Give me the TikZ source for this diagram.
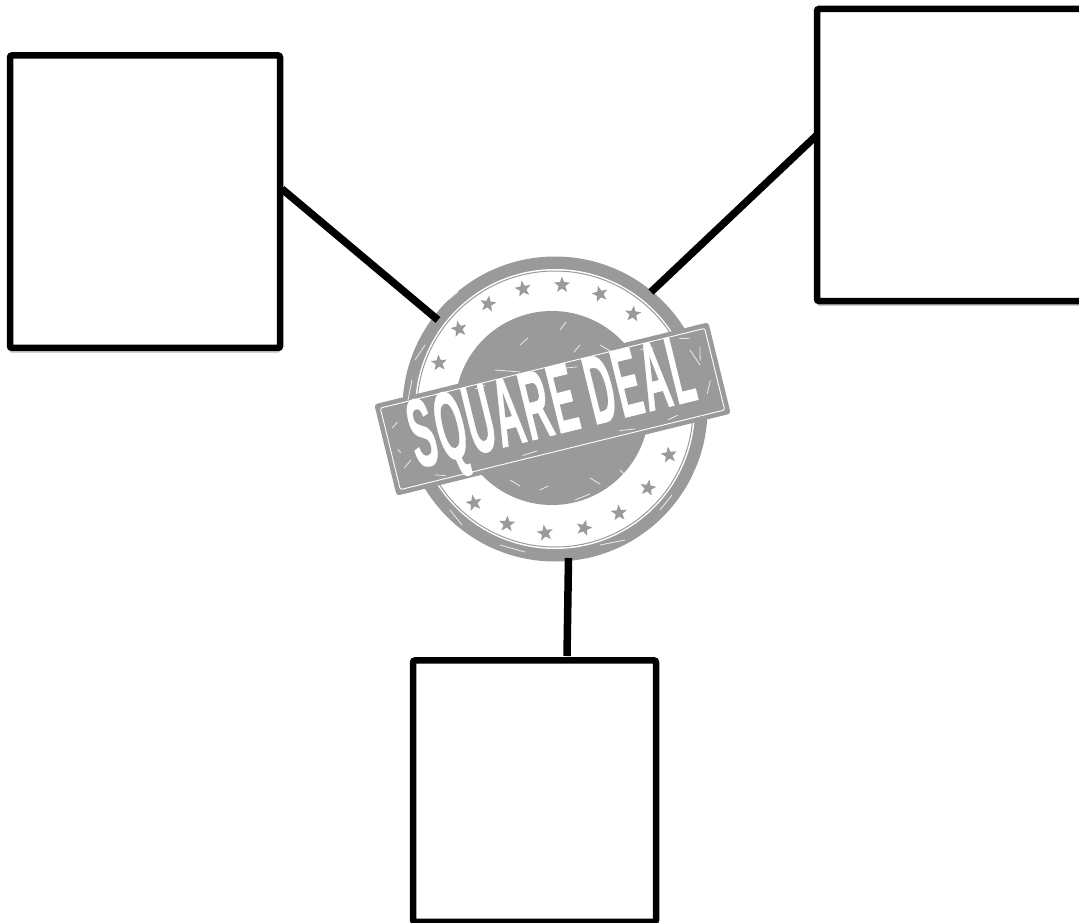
\documentclass[tikz,border=0pt]{standalone}
\usepackage{fontspec}
\usepackage{graphicx}
\setmainfont{Liberation Sans}
\usetikzlibrary{shapes.geometric,shadows}
\definecolor{stampgray}{HTML}{9A9A9A}
\tikzset{
  blankbox/.style={draw=black,line width=6.5pt,fill=white,rounded corners=2pt,inner sep=0pt,
    drop shadow={shadow xshift=0pt,shadow yshift=-5pt,fill=black!50,opacity=0.35}},
  link/.style={draw=black,line width=7.5pt},
  stampstar/.style={star,star points=5,star point ratio=2.4,fill=stampgray,minimum size=17pt,inner sep=0pt},
  scratch/.style={draw=white,line width=0.8pt,line cap=round,opacity=0.8}
}
\begin{document}
\begin{tikzpicture}[x=1pt,y=-1pt]
\useasboundingbox (0,0) rectangle (1079,923);
\clip (0,0) rectangle (1079,923);
% boxes
\node[blankbox,minimum width=270pt,minimum height=292.5pt] (lbox) at (145,201.7) {};
\node[blankbox,minimum width=300pt,minimum height=292pt] (rbox) at (967,155) {};
\node[blankbox,minimum width=243pt,minimum height=261.5pt] (bbox) at (534.5,791.2) {};
% stamp
\node[circle,fill=stampgray,minimum size=305pt,inner sep=0pt] (stamp) at (555,409) {};
\node[circle,fill=white,minimum size=280pt,inner sep=0pt] at (stamp) {};
\node[circle,draw=stampgray,line width=1pt,minimum size=276pt,inner sep=0pt] at (stamp) {};
\node[circle,fill=stampgray,minimum size=194pt,inner sep=0pt] (disc) at (552,408) {};
\foreach \i/\sx/\sy/\r in {a/439/363/5,b/459/329/12,c/488/304/-8,d/523/289/10,e/562/285/0,f/600/294/14,g/633/314/-6,
  h/669/455/8,i/648/488/-10,j/619/513/4,k/584/528/-14,l/545/533/9,m/507/524/-4,n/474/503/12}{
  \node[stampstar,rotate=\r] (star\i) at (\sx,\sy) {};
}
% banner
\begin{scope}[shift={(552.5,409)},rotate=13.8]
  \node[fill=stampgray,rounded corners=3pt,minimum width=344pt,minimum height=94pt,inner sep=0pt,rotate=13.8] (banner) at (0,0) {};
  \draw[white,line width=0.9pt,rounded corners=2pt] (-167,-42) rectangle (167,42);
  \node[text=white,inner sep=0pt,rotate=13.8] (label) at (1,1)
    {\resizebox{292pt}{68pt}{\textbf{\addfontfeature{FakeBold=1,LetterSpace=5}SQUARE DEAL}}};
  \foreach \ax/\ay/\bx/\by in {-160/-20/-154/-24,-158/22/-150/16,-130/36/-120/39,158/-25/155/-12,160/10/154/22,120/36/110/38,
    60/37/75/39,-40/38/-25/37,20/-37/34/-35,-70/-38/-60/-39,100/-37/112/-35,-160/2/-158/6,140/-38/150/-36}{
    \draw[scratch] (\ax,\ay) -- (\bx,\by);
  }
\end{scope}
% scratches on disc and ring
\foreach \ax/\ay/\bx/\by in {520/345/528/338,560/330/566/322,600/345/612/352,495/370/520/372,590/478/600/484,620/470/632/482,
  540/490/548/486,510/480/520/486,575/500/590/494,580/345/574/352,
  415/360/425/345,448/300/458/292,640/275/655/285,690/350/700/365,695/470/688/490,450/510/462/525,500/545/525/552,600/545/625/540,660/510/672/495,412/380/408/400}{
  \draw[scratch] (\ax,\ay) -- (\bx,\by);
}
% connectors
\coordinate (lstart) at (282,189);
\coordinate (lend) at (438,320);
\coordinate (rstart) at (817,135);
\coordinate (rend) at (651,292);
\coordinate (bstart) at (568.5,558);
\coordinate (bstop) at (567,656);
\draw[link] (lstart) -- (lend);
\draw[link] (rstart) -- (rend);
\draw[link] (bstart) -- (bstop);
\end{tikzpicture}
\end{document}
